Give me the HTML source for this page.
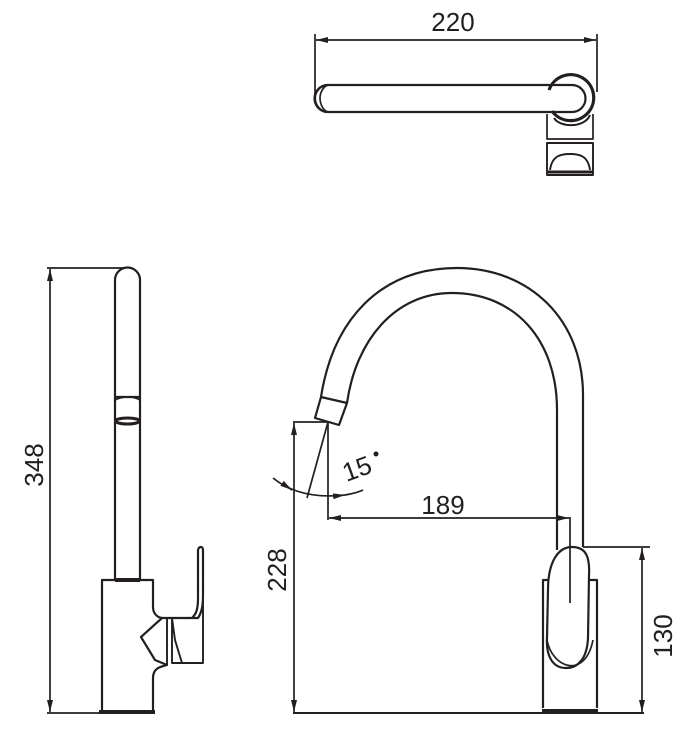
<!DOCTYPE html>
<html><head><meta charset="utf-8"><style>
html,body{margin:0;padding:0;background:#fff;}
svg{display:block;}
text{font-family:"Liberation Sans",sans-serif;font-size:26px;fill:#231f20;}
</style></head><body>
<svg width="693" height="733" viewBox="0 0 693 733" xmlns="http://www.w3.org/2000/svg">
<defs>
<marker id="a" viewBox="0 0 12 6" refX="12" refY="3" markerWidth="12" markerHeight="6" markerUnits="userSpaceOnUse" orient="auto-start-reverse">
<path d="M0,0 L12,3 L0,6 Z" fill="#231f20"/></marker>
</defs>
<g fill="none" stroke="#231f20" stroke-width="1.7" stroke-linejoin="round">
<!-- TOP VIEW -->
<line x1="315" y1="34" x2="315" y2="96"/>
<line x1="597" y1="34" x2="597" y2="92"/>
<line x1="316" y1="40" x2="596" y2="40" marker-start="url(#a)" marker-end="url(#a)"/>
<path d="M328,85 L572,85 A13.5,13.5 0 0 1 572,112 L328,112 A13.5,13.5 0 0 1 328,85 Z" stroke-width="2.2"/>
<path d="M328,85 C320,85 315,92 315,98 C315,105 320,112 328,112" stroke-width="2.2"/>
<path d="M328,85 C324,86 320,92 320,98 C320,105 324,111 328,112" stroke-width="1.7"/>
<path d="M549,90 A23,23 0 1 1 552,111" stroke-width="3.2"/>
<path d="M547,114 L547,139 L593,139 L593,114"/>
<path d="M554,118 C560,128 585,128 590,115" stroke-width="2"/>
<path d="M547,143 L593,143 L593,175 L547,175 Z" stroke-width="1.9"/>
<path d="M550,170 C552,156 560,154 570,154 C580,154 588,156 590,170" stroke-width="1.9"/>
<line x1="547" y1="172" x2="593" y2="172" stroke-width="3"/>

<!-- LEFT VIEW -->
<line x1="47" y1="268" x2="124" y2="268"/>
<line x1="47" y1="713" x2="100" y2="713"/>
<line x1="50" y1="269" x2="50" y2="712" marker-start="url(#a)" marker-end="url(#a)"/>
<path d="M115,580 L115,280 A12.5,12.5 0 0 1 140,280 L140,580" stroke-width="2.2"/>
<line x1="115" y1="397" x2="140" y2="397" stroke-width="2.2"/>
<path d="M115,400 C122,396 134,396 140,400"/>
<ellipse cx="127.5" cy="421" rx="12" ry="3" stroke-width="3"/>
<path d="M102,713 L102,580 L153,580 L153,607 C153,614 158,618 163,618 L198,618 C202,612 203,605 203,595 L203,550 C203,546 199,546 198,550 L198,598 C198,610 196,614 192,618" stroke-width="2.2"/>
<line x1="115" y1="580" x2="140" y2="580" stroke-width="4"/>
<path d="M162,618 L141,637 L155,660 L167,665 C160,667 153,668 153,678 L153,713" stroke-width="2.2"/>
<path d="M167,618 L167,665 M172,618 L172,663 L182,663 L175,640 L172,618 M182,663 L203,663 L203,595" stroke-width="1.9"/>
<line x1="99" y1="712" x2="155" y2="712" stroke-width="4"/>

<!-- RIGHT VIEW -->
<path d="M583,547 L583,395 C583,320 530,268 457,268 C380,268 333,320 321,397" stroke-width="2.2"/>
<path d="M557,550 L557,410 C557,340 515,293 452,293 C395,293 356,340 347,403" stroke-width="2.2"/>
<path d="M321,397 L347,403 L339,425 L315,418 Z" stroke-width="2.2"/>
<line x1="293" y1="422" x2="328" y2="422"/>
<line x1="328" y1="422" x2="328" y2="520"/>
<line x1="328" y1="422" x2="307" y2="498"/>
<path d="M273,478 Q300,500 345,495" marker-end="url(#a)"/>
<path d="M345,495 Q357,493 363,490"/>
<path d="M283,484 L292,490" marker-end="url(#a)"/>
<line x1="294" y1="423" x2="294" y2="712" marker-start="url(#a)" marker-end="url(#a)"/>
<line x1="293" y1="713" x2="644" y2="713" stroke-width="1.9"/>
<line x1="329" y1="518" x2="569" y2="518" marker-start="url(#a)" marker-end="url(#a)"/>
<line x1="570" y1="517" x2="570" y2="603"/>
<line x1="583" y1="547" x2="650" y2="547"/>
<line x1="642" y1="548" x2="642" y2="712" marker-start="url(#a)" marker-end="url(#a)"/>
<path d="M543,708 L543,580 L549,580 M590,580 L597,580 L597,708" stroke-width="2.2"/>
<path d="M548,590 C548,562 558,547 572,547 C586,547 590,557 589,575 L588,638 C587,660 577,668 566,668 C552,668 546,655 547,638 Z" stroke-width="2.2"/>
<path d="M547,640 C552,668 585,680 593,640" stroke-width="1.7"/>
<line x1="542" y1="711" x2="598" y2="711" stroke-width="4"/>
</g>
<circle cx="376" cy="454" r="2.5" fill="#231f20"/>
<text x="453" y="31" text-anchor="middle">220</text>
<text x="443" y="514" text-anchor="middle">189</text>
<text transform="translate(360,477) rotate(-20)" text-anchor="middle">15</text>
<text transform="translate(43,465) rotate(-90)" text-anchor="middle">348</text>
<text transform="translate(286,570) rotate(-90)" text-anchor="middle">228</text>
<text transform="translate(672,636) rotate(-90)" text-anchor="middle">130</text>
</svg>
</body></html>
